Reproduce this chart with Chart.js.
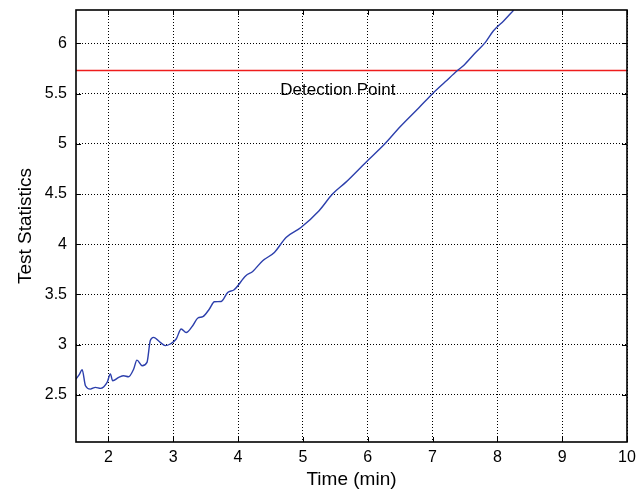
<!DOCTYPE html>
<html>
<head>
<meta charset="utf-8">
<script src="https://cdn.jsdelivr.net/npm/chart.js@4.4.0/dist/chart.umd.min.js"></script>
<style>
  html, body { margin: 0; padding: 0; background: #fff; }
  #wrap { width: 643px; height: 492px; }
</style>
</head>
<body>
<div id="wrap"><canvas id="statChart"></canvas></div>
<script>
// Test statistic over time (minutes)
const timeMin = [1.50, 1.55, 1.595, 1.646, 1.72, 1.80, 1.877, 1.98, 2.03, 2.066,
  2.16, 2.235, 2.31, 2.39, 2.44, 2.52, 2.595, 2.646, 2.697, 2.80,
  2.877, 2.954, 3.046, 3.123, 3.20, 3.30, 3.38, 3.457, 3.558, 3.635,
  3.74, 3.84, 3.94, 4.12, 4.226, 4.38, 4.56, 4.74, 4.97, 5.25,
  5.457, 5.66, 5.97, 6.25, 6.50, 6.79, 7.00, 7.20, 7.38, 7.48,
  7.65, 7.815, 7.94, 8.10, 8.25];
const testStat = [2.657, 2.70, 2.75, 2.59, 2.557, 2.574, 2.564, 2.623, 2.707, 2.64,
  2.673, 2.69, 2.68, 2.757, 2.846, 2.79, 2.823, 3.04, 3.072, 3.022,
  2.99, 3.006, 3.056, 3.155, 3.12, 3.188, 3.265, 3.278, 3.355, 3.427,
  3.43, 3.52, 3.547, 3.686, 3.729, 3.836, 3.918, 4.068, 4.167, 4.334,
  4.5, 4.616, 4.815, 4.99, 5.17, 5.36, 5.50, 5.62, 5.728, 5.78,
  5.90, 6.01, 6.126, 6.226, 6.33];

// detection threshold
const detectionLevel = 5.73;
const detectionText = "Detection Point";

const xTicks = [2, 3, 4, 5, 6, 7, 8, 9, 10];
const yTicks = [2.5, 3, 3.5, 4, 4.5, 5, 5.5, 6];

const X_MIN = 1.5, X_MAX = 10;
const Y_MIN = 2.03, Y_MAX = 6.333;

const FONT = "'Liberation Sans', Arial, Helvetica, sans-serif";

// box around the axes, inward tick marks and the threshold label
const framePlugin = {
  id: 'frame',
  afterDatasetsDraw(chart) {
    const { ctx, chartArea: a, scales: { x, y } } = chart;
    ctx.save();
    ctx.setLineDash([]);
    ctx.strokeStyle = '#000';
    ctx.lineWidth = 1;
    ctx.beginPath();
    xTicks.forEach(v => {
      const px = Math.round(x.getPixelForValue(v)) + 0.5;
      ctx.moveTo(px, a.bottom); ctx.lineTo(px, a.bottom - 5);
      ctx.moveTo(px, a.top); ctx.lineTo(px, a.top + 5);
    });
    yTicks.forEach(v => {
      const py = Math.round(y.getPixelForValue(v)) + 0.5;
      ctx.moveTo(a.left, py); ctx.lineTo(a.left + 5, py);
      ctx.moveTo(a.right, py); ctx.lineTo(a.right - 5, py);
    });
    ctx.stroke();
    ctx.lineWidth = 1.6;
    ctx.strokeRect(a.left, a.top, a.right - a.left, a.bottom - a.top);

    ctx.fillStyle = '#000';
    ctx.font = '17px ' + FONT;
    ctx.textAlign = 'center';
    ctx.textBaseline = 'alphabetic';
    ctx.fillText(detectionText, x.getPixelForValue(5.54), y.getPixelForValue(5.5) + 1);
    ctx.restore();
  }
};

const ctx = document.getElementById("statChart").getContext("2d");
const statChart = new Chart(ctx, {
  type: 'line',
  data: {
    datasets: [
      {
        label: "Test Statistics",
        data: timeMin.map((t, i) => ({ x: t, y: testStat[i] })),
        borderColor: "#2c3fac",
        borderWidth: 1.4,
        pointRadius: 0,
        cubicInterpolationMode: 'monotone',
        fill: false
      },
      {
        label: detectionText,
        data: [{ x: X_MIN, y: detectionLevel }, { x: X_MAX, y: detectionLevel }],
        borderColor: "#ee1c1c",
        borderWidth: 1.6,
        pointRadius: 0,
        tension: 0,
        fill: false
      }
    ]
  },
  options: {
    animation: false,
    responsive: true,
    maintainAspectRatio: false,
    layout: { padding: { top: 10, right: 16, left: 0, bottom: 0 } },
    plugins: {
      legend: { display: false },
      tooltip: { enabled: false }
    },
    scales: {
      x: {
        type: 'linear',
        min: X_MIN, max: X_MAX,
        afterBuildTicks: s => { s.ticks = xTicks.map(v => ({ value: v })); },
        afterFit: s => { s.height = 50; s.paddingLeft = 0; s.paddingRight = 0; },
        grid: { color: '#000', lineWidth: 1, drawTicks: false },
        border: { display: false, dash: [1, 2] },
        ticks: { color: '#000', font: { family: FONT, size: 16 }, padding: 6, maxRotation: 0,
                 callback: v => String(v) },
        title: { display: true, text: "Time (min)", color: '#000', font: { family: FONT, size: 19 }, padding: { top: 0, bottom: 1 } }
      },
      y: {
        min: Y_MIN, max: Y_MAX,
        afterBuildTicks: s => { s.ticks = yTicks.map(v => ({ value: v })); },
        afterFit: s => { s.width = 76; s.paddingTop = 0; s.paddingBottom = 0; },
        grid: { color: '#000', lineWidth: 1, drawTicks: false },
        border: { display: false, dash: [1, 2] },
        ticks: { color: '#000', font: { family: FONT, size: 16 }, padding: 9,
                 callback: v => String(v) },
        title: { display: true, text: "Test Statistics", color: '#000', font: { family: FONT, size: 19 }, padding: { top: 14, bottom: 0 } }
      }
    }
  },
  plugins: [framePlugin]
});
</script>
</body>
</html>
